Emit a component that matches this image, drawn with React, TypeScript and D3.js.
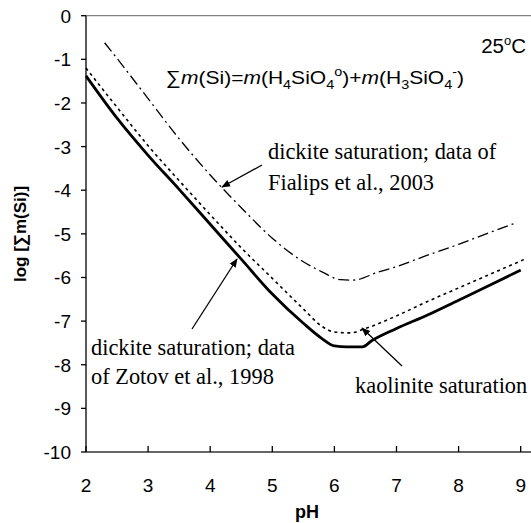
import React from "react";
import * as d3 from "d3";

const kaoPH = [2, 2.5, 3, 3.5, 4, 4.5, 5, 5.5, 5.8, 6.0, 6.2, 6.45, 6.6, 7, 7.5, 8, 8.5, 9];
const kaoLog = [-1.38, -2.35, -3.2, -3.98, -4.78, -5.58, -6.38, -7.05, -7.4, -7.57, -7.59, -7.59, -7.45, -7.17, -6.86, -6.52, -6.18, -5.83];

const zotPH = [2, 2.5, 3, 3.5, 4, 4.5, 5, 5.5, 5.8, 6.0, 6.25, 6.5, 7, 7.5, 8, 8.5, 9.1];
const zotLog = [-1.2, -2.1, -2.98, -3.78, -4.56, -5.32, -6.02, -6.72, -7.12, -7.25, -7.27, -7.17, -6.88, -6.55, -6.24, -5.93, -5.56];

const fiaPH = [2.3, 2.5, 3, 3.5, 4, 4.5, 5, 5.5, 5.8, 6.1, 6.3, 6.7, 7.0, 7.5, 8.0, 8.5, 8.92];
const fiaLog = [-0.62, -0.98, -1.9, -2.82, -3.65, -4.4, -5.1, -5.64, -5.87, -6.05, -6.06, -5.88, -5.75, -5.49, -5.24, -4.97, -4.75];

const xTicks = [2, 3, 4, 5, 6, 7, 8, 9];
const yTicks = [0, -1, -2, -3, -4, -5, -6, -7, -8, -9, -10];

export default function App() {
  const W = 531, H = 523;
  const x = d3.scaleLinear().domain([2, 9.166]).range([86, 531]);
  const y = d3.scaleLinear().domain([-10, 0]).range([452, 15.7]);
  const line = d3
    .line<[number, number]>()
    .x((d) => x(d[0]))
    .y((d) => y(d[1]))
    .curve(d3.curveMonotoneX);
  const mk = (a: number[], b: number[]) => a.map((v, i) => [v, b[i]] as [number, number]);
  const sans = "Arial, 'Liberation Sans', sans-serif";
  const serif = "'Times New Roman', 'Liberation Serif', serif";
  const arrows = [
    { x1: 262, y1: 165, x2: 222, y2: 187 },
    { x1: 192, y1: 329, x2: 237, y2: 259 },
    { x1: 402, y1: 366, x2: 362, y2: 328 },
  ];
  return (
    <svg width={W} height={H} style={{ position: "absolute", left: 0, top: 0, background: "#fff" }}>
      <defs>
        <marker id="ah" viewBox="0 0 10 10" refX="9" refY="5" markerWidth="9" markerHeight="9" orient="auto" markerUnits="userSpaceOnUse">
          <path d="M0,1 L10,5 L0,9 Z" fill="#000" />
        </marker>
      </defs>
      <rect width={W} height={H} fill="#fff" />
      <line x1={x(2)} x2={W} y1={y(0)} y2={y(0)} stroke="#808080" strokeWidth={1.3} />
      <line x1={x(2)} x2={x(2)} y1={y(0)} y2={y(-10)} stroke="#222" strokeWidth={1.5} />
      <line x1={x(2)} x2={W} y1={y(-10)} y2={y(-10)} stroke="#333" strokeWidth={1.5} />
      {yTicks.map((t) => (
        <g key={"y" + t}>
          <line x1={x(2) - 5} x2={x(2)} y1={y(t)} y2={y(t)} stroke="#000" strokeWidth={1.3} />
          <text x={71} y={y(t) + 7} textAnchor="end" fontFamily={sans} fontSize={19}>{t}</text>
        </g>
      ))}
      {xTicks.map((t) => (
        <g key={"x" + t}>
          <line x1={x(t)} x2={x(t)} y1={y(-10)} y2={y(-10) - 6} stroke="#000" strokeWidth={1.3} />
          <text x={x(t)} y={492} textAnchor="middle" fontFamily={sans} fontSize={19}>{t}</text>
        </g>
      ))}
      <text x={307} y={518} textAnchor="middle" fontFamily={sans} fontWeight="bold" fontSize={18}>pH</text>
      <text transform="translate(26,234) rotate(-90)" textAnchor="middle" fontFamily={sans} fontWeight="bold" fontSize={17}>log [∑m(Si)]</text>

      <path d={line(mk(fiaPH, fiaLog)) || ""} fill="none" stroke="#000" strokeWidth={1.3} strokeDasharray="11,4,2,4" />
      <path d={line(mk(zotPH, zotLog)) || ""} fill="none" stroke="#000" strokeWidth={1.6} strokeDasharray="3,3.5" />
      <path d={line(mk(kaoPH, kaoLog)) || ""} fill="none" stroke="#000" strokeWidth={2.8} strokeLinejoin="round" />

      <text x={526} y={53} textAnchor="end" fontFamily={sans} fontSize={20.5}>
        25<tspan dy={-8} fontSize={13}>o</tspan><tspan dy={8}>C</tspan>
      </text>
      <text x={166} y={84} fontFamily={sans} fontSize={19} textLength={298} lengthAdjust="spacingAndGlyphs">
        ∑<tspan fontStyle="italic">m</tspan>(Si)=<tspan fontStyle="italic">m</tspan>(H<tspan dy={5} fontSize={13}>4</tspan><tspan dy={-5}>SiO</tspan><tspan dy={5} fontSize={13}>4</tspan><tspan dy={-13} fontSize={13}>o</tspan><tspan dy={8}>)+</tspan><tspan fontStyle="italic">m</tspan>(H<tspan dy={5} fontSize={13}>3</tspan><tspan dy={-5}>SiO</tspan><tspan dy={5} fontSize={13}>4</tspan><tspan dy={-13} fontSize={13}>-</tspan><tspan dy={8}>)</tspan>
      </text>
      <text fontFamily={serif} fontSize={22.4}>
        <tspan x={268} y={159}>dickite saturation; data of</tspan>
        <tspan x={268} y={190}>Fialips et al., 2003</tspan>
      </text>
      <text fontFamily={serif} fontSize={22.4}>
        <tspan x={91} y={355}>dickite saturation; data</tspan>
        <tspan x={91} y={384}>of Zotov et al., 1998</tspan>
      </text>
      <text x={355} y={393} fontFamily={serif} fontSize={22.4}>kaolinite saturation</text>
      {arrows.map((a, i) => (
        <line key={i} x1={a.x1} y1={a.y1} x2={a.x2} y2={a.y2} stroke="#000" strokeWidth={1.3} markerEnd="url(#ah)" />
      ))}
    </svg>
  );
}
